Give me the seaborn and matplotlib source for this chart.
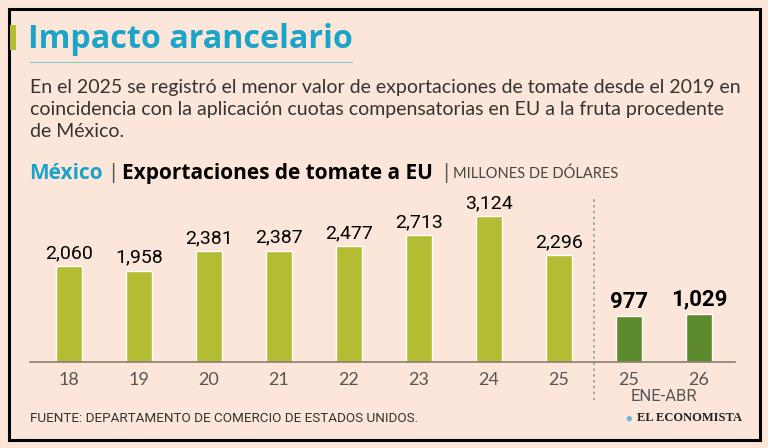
import matplotlib
matplotlib.use("Agg")
import matplotlib.pyplot as plt
import seaborn as sns
import pandas as pd
from matplotlib.patches import Rectangle

# data
years = ["18", "19", "20", "21", "22", "23", "24", "25", "25", "26"]
keys = ["2018", "2019", "2020", "2021", "2022", "2023", "2024", "2025", "2025 ENE-ABR", "2026 ENE-ABR"]
values = [2060, 1958, 2381, 2387, 2477, 2713, 3124, 2296, 977, 1029]
period = ["Anual"] * 8 + ["Ene-Abr"] * 2

df = pd.DataFrame({"key": keys, "valor": values, "periodo": period})

BG = "#fce6d9"
LIGHT = "#b4bc34"
DARK = "#5c8a2c"
CYAN = "#1ba3c8"
cols = [LIGHT if p == "Anual" else DARK for p in period]

sns.set_theme(style="white")
plt.rcParams["font.family"] = ["Lato", "DejaVu Sans"]
cond = ["Roboto", "DejaVu Sans"]
wide = ["Open Sans", "DejaVu Sans"]

fig = plt.figure(figsize=(7.68, 4.48), dpi=100, facecolor=BG)
W, H = 768, 448

def fx(px):
    return px / W

def fy(py):
    return 1 - py / H

# border
fig.patches.append(Rectangle((fx(9), fy(440)), fx(751), (440 - 9) / H, transform=fig.transFigure,
                             fill=False, edgecolor="black", linewidth=2.2))
# title
fig.patches.append(Rectangle((fx(10), fy(50)), fx(6), 25 / H, transform=fig.transFigure,
                             facecolor=LIGHT, edgecolor="none"))
fig.text(fx(28), fy(40), "Impacto arancelario", color=CYAN, fontsize=23.2, fontweight="bold",
         va="center", family=wide)
fig.add_artist(plt.Line2D([fx(30), fx(352)], [fy(62), fy(62)], color="#7fc8c8", linewidth=0.8))

sub = ("En el 2025 se registró el menor valor de exportaciones de tomate desde el 2019 en\n"
       "coincidencia con la aplicación cuotas compensatorias en EU a la fruta procedente\n"
       "de México.")
fig.text(fx(30), fy(79), sub, color="#333333", fontsize=14, va="top", linespacing=1.36)

# chart header
fig.text(fx(29), fy(173), "México", color=CYAN, fontsize=15, fontweight="bold", va="center",
         family=wide)
fig.text(fx(110), fy(173), "|", color="#555555", fontsize=15, va="center")
fig.text(fx(122), fy(173), "Exportaciones de tomate a EU", color="black", fontsize=15,
         fontweight="bold", va="center", family=wide)
fig.text(fx(443), fy(173), "|", color="#555555", fontsize=15, va="center")
fig.text(fx(453), fy(174), "MILLONES DE DÓLARES", color="#444444", fontsize=10.5, va="center")

# axes
px_per_unit = 70
ax = fig.add_axes([fx(30), fy(362), fx(735 - 30), (362 - 190) / H])
ax.set_facecolor("none")
sns.barplot(data=df, x="key", y="valor", hue="key", palette=cols, legend=False,
            width=0.38, ax=ax, saturation=1)
ax.set_xlim(-39 / px_per_unit, 9 + 36 / px_per_unit)
ax.set_ylim(0, (362 - 190) / 0.0467)
for s in ["top", "right", "left"]:
    ax.spines[s].set_visible(False)
ax.spines["bottom"].set_color("#8a7d74")
ax.spines["bottom"].set_linewidth(1.2)
ax.set_yticks([])
ax.set_xlabel("")
ax.set_ylabel("")
ax.set_xticks(range(len(years)))
ax.set_xticklabels(years, fontsize=13, color="#555555")
ax.tick_params(axis="x", length=0, pad=7)

for i, (v, p) in enumerate(zip(values, period)):
    bold = p != "Anual"
    ax.text(i, v + 80, f"{v:,}", ha="center", va="bottom", family=cond,
            fontsize=16 if bold else 14, fontweight="bold" if bold else "normal", color="black")

ax.axvline(7.5, ymin=-0.22, ymax=0.95, color="#999999", linestyle=(0, (1.5, 2)), linewidth=1.2,
           clip_on=False)
ax.text(8.5, -0.2, "ENE-ABR", transform=ax.get_xaxis_transform(), ha="center", va="center",
        fontsize=12, color="#555555", family=cond)

# footer
fig.text(fx(30), fy(418), "FUENTE: DEPARTAMENTO DE COMERCIO DE ESTADOS UNIDOS.", fontsize=9.7,
         color="#333333", family=cond, va="center")
fig.text(fx(625), fy(418), "●", fontsize=8, color="#6fb7d8", va="center")
fig.text(fx(637), fy(418), "EL ECONOMISTA", fontsize=9, color="#222222", va="center",
         family=["Liberation Serif", "DejaVu Serif"], fontweight="bold")

fig.savefig("out.png", dpi=100, facecolor=BG)
